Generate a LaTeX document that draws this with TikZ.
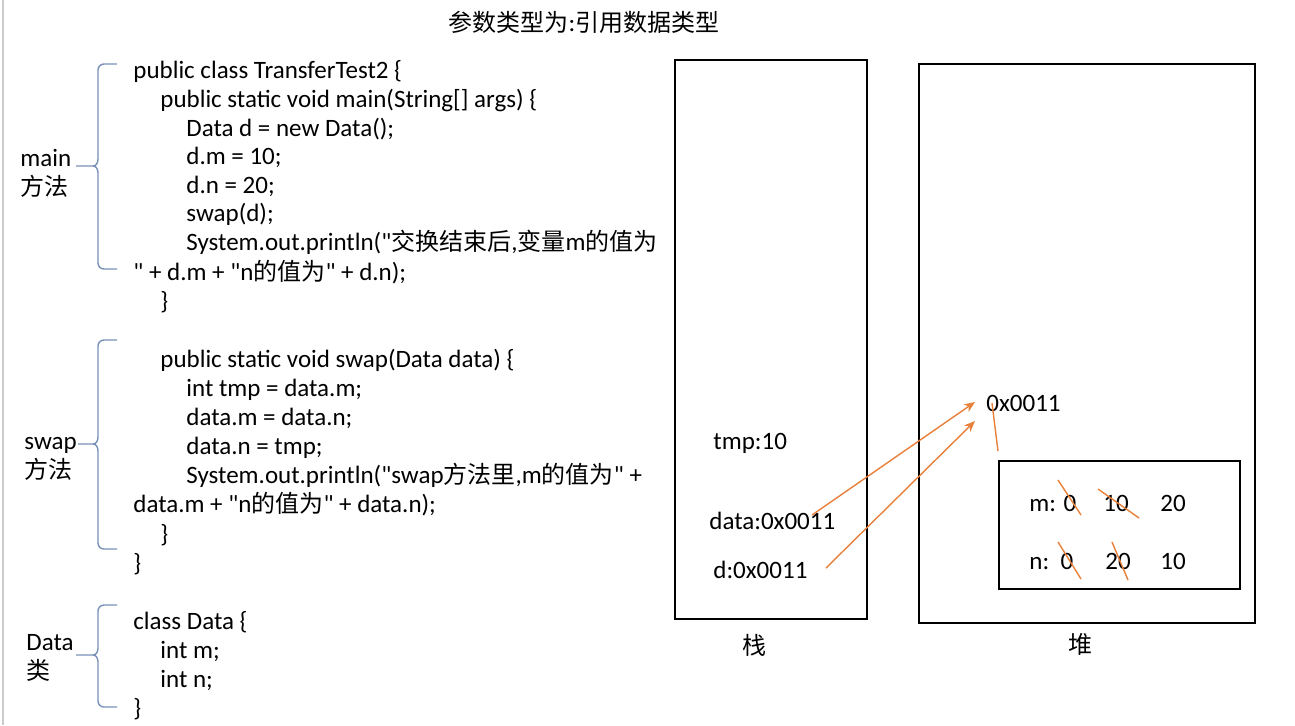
\documentclass[tikz,border=0pt]{standalone}
\usepackage{fontspec}
\setmainfont{Carlito}[Ligatures=TeXOff]
\newfontfamily\hanfont{Noto Sans CJK SC}[Ligatures=TeXOff]
\usetikzlibrary{arrows.meta}
\definecolor{bracecol}{RGB}{120,145,182}
\definecolor{ptrcol}{RGB}{232,128,58}
% Han characters in Noto Sans CJK, the rest in Carlito
\XeTeXinterchartokenstate=1
\newXeTeXintercharclass\hanclass
\count255="3000
\loop
  \XeTeXcharclass\count255=\hanclass
  \ifnum\count255<"9FFF \advance\count255 by 1 \repeat
\XeTeXinterchartoks 0 \hanclass={\begingroup\hanfont\fontsize{12}{14}\selectfont}
\XeTeXinterchartoks 4095 \hanclass={\begingroup\hanfont\fontsize{12}{14}\selectfont}
\XeTeXinterchartoks \hanclass 0={\endgroup}
\XeTeXinterchartoks \hanclass 4095={\endgroup}

\begin{document}
\begin{tikzpicture}[x=0.5pt,y=-0.5pt,
  txt/.style={anchor=base west,inner sep=0pt,font=\fontsize{12.5}{14}\selectfont},
  brace/.style={draw=bracecol,line width=0.7pt},
  box/.style={draw=black,line width=0.6pt},
  ptr/.style={draw=ptrcol,line width=0.7pt,-{Stealth[length=5.5pt,width=4.5pt]}},
  strike/.style={draw=ptrcol,line width=0.7pt}]
\useasboundingbox (0,0) rectangle (1295,725);
\draw [black!20,line width=1pt] (3,0) -- (3,725);
%% title
\node [font=\fontsize{12.5}{14}\selectfont] (title) at (584,22) {参数类型为:引用数据类型};

%% main
\node [txt] (c1) at (133,78) {public class TransferTest2 \{};
\node [txt] (c2) at (160,107) {public static void main(String[] args) \{};
\node [txt] (c3) at (186,136) {Data d = new Data();};
\node [txt] (c4) at (186,164) {d.m = 10;};
\node [txt] (c5) at (186,193) {d.n = 20;};
\node [txt] (c6) at (186,221) {swap(d);};
\node [txt] (c7) at (186,250) {System.out.println("交换结束后,变量m的值为};
\node [txt] (c8) at (133,280) {" + d.m + "n的值为" + d.n);};
\node [txt] (c9) at (160,309) {\}};
%% swap
\node [txt] (s1) at (160,367) {public static void swap(Data data) \{};
\node [txt] (s2) at (186,396) {int tmp = data.m;};
\node [txt] (s3) at (186,425) {data.m = data.n;};
\node [txt] (s4) at (186,454) {data.n = tmp;};
\node [txt] (s5) at (186,483) {System.out.println("swap方法里,m的值为" +};
\node [txt] (s6) at (133,512) {data.m + "n的值为" + data.n);};
\node [txt] (s7) at (160,542) {\}};
\node [txt] (s8) at (133,571) {\}};
%% Data
\node [txt] (d1) at (133,629) {class Data \{};
\node [txt] (d2) at (160,658) {int m;};
\node [txt] (d3) at (160,687) {int n;};
\node [txt] (d4) at (133,716) {\}};

%% labels
\node [txt] (mainlbl) at (20,166) {main};
\node [txt] (mainlbl2) at (20,195) {方法};
\node [txt] (swaplbl) at (24,449) {swap};
\node [txt] (swaplbl2) at (24,478) {方法};
\node [txt] (datalbl) at (26,650) {Data};
\node [txt] (datalbl2) at (26,679) {类};

%% braces
\draw [brace] (117,64) -- (104,64) to[out=180,in=90] (98,70) -- (98,159) to[out=270,in=0] (93,166) -- (76,166);
\draw [brace] (93,166) to[out=0,in=90] (98,173) -- (98,263) to[out=270,in=180] (104,269) -- (117,269);
\draw [brace] (117,340) -- (104,340) to[out=180,in=90] (98,346) -- (98,437) to[out=270,in=0] (93,444) -- (78,444);
\draw [brace] (93,444) to[out=0,in=90] (98,451) -- (98,543) to[out=270,in=180] (104,549) -- (117,549);
\draw [brace] (117,605) -- (104,605) to[out=180,in=90] (98,611) -- (98,648) to[out=270,in=0] (93,655) -- (76,655);
\draw [brace] (93,655) to[out=0,in=90] (98,662) -- (98,701) to[out=270,in=180] (104,707) -- (117,707);

%% stack
\draw [box] (675,60) rectangle (867,619);
\node [font=\fontsize{12.5}{14}\selectfont] (stacklbl) at (754,645) {栈};
\node [txt] (tmp) at (713,449) {tmp:10};
\node [txt] (datavar) at (709,529) {data:0x0011};
\node [txt] (dvar) at (713,578) {d:0x0011};

%% heap
\draw [box] (919,64) rectangle (1255,623);
\node [font=\fontsize{12.5}{14}\selectfont] (heaplbl) at (1080,644) {堆};
\node [txt] (addr) at (986,411) {0x0011};
\draw [box] (999,461) rectangle (1240,589);
\node [txt] (mlbl) at (1029,511) {m: 0};
\node [txt] (m10) at (1103,511) {10};
\node [txt] (m20) at (1160,511) {20};
\node [txt] (nlbl) at (1029,569) {n:\ \ 0};
\node [txt] (n20) at (1105,569) {20};
\node [txt] (n10) at (1160,569) {10};

%% pointers
\coordinate (dataptr) at (812,515);
\coordinate (dptr) at (826,568);
\coordinate (addrin1) at (975,402);
\coordinate (addrin2) at (975,421);
\coordinate (objtop) at (998,451);
\coordinate (addrbot) at (992,403);
\draw [ptr] (dataptr) -- (addrin1);
\draw [ptr] (dptr) -- (addrin2);
\draw [strike] (objtop) -- (addrbot);

%% crossed out values
\draw [strike] (1058,480) -- (1081,515);
\draw [strike] (1098,489) -- (1139,518);
\draw [strike] (1058,542) -- (1081,579);
\draw [strike] (1112,542) -- (1128,580);

\end{tikzpicture}
\end{document}
